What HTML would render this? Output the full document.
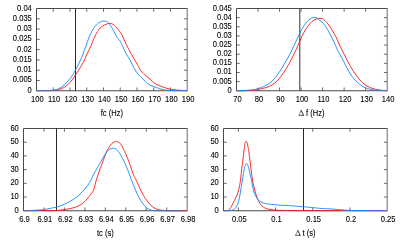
<!DOCTYPE html>
<html><head><meta charset="utf-8"><title>plots</title>
<style>
html,body{margin:0;padding:0;background:#fff;}
body{width:400px;height:240px;overflow:hidden;}
svg{display:block;will-change:transform;}
text{font-family:"Liberation Sans", sans-serif;font-size:8.6px;fill:#000;stroke:#000;stroke-width:0.09;}
.ax{fill:none;stroke:#303030;stroke-width:0.88;}
.tk{fill:none;stroke:#6c6c6c;stroke-width:1;}
.r{fill:none;stroke:#ff1414;stroke-width:0.9;stroke-linejoin:round;}
.b{fill:none;stroke:#148aff;stroke-width:0.9;stroke-linejoin:round;}
</style></head>
<body>
<svg width="400" height="240" viewBox="0 0 400 240">
<rect width="400" height="240" fill="#fff"/>
<g>
<path class="tk" d="M53.24 90.75v-3.3 M53.24 8.5v3.3 M69.99 90.75v-3.3 M69.99 8.5v3.3 M86.73 90.75v-3.3 M86.73 8.5v3.3 M103.48 90.75v-3.3 M103.48 8.5v3.3 M120.22 90.75v-3.3 M120.22 8.5v3.3 M136.97 90.75v-3.3 M136.97 8.5v3.3 M153.71 90.75v-3.3 M153.71 8.5v3.3 M170.46 90.75v-3.3 M170.46 8.5v3.3 M36.5 80.47h3.3 M187.2 80.47h-3.3 M36.5 70.19h3.3 M187.2 70.19h-3.3 M36.5 59.91h3.3 M187.2 59.91h-3.3 M36.5 49.62h3.3 M187.2 49.62h-3.3 M36.5 39.34h3.3 M187.2 39.34h-3.3 M36.5 29.06h3.3 M187.2 29.06h-3.3 M36.5 18.78h3.3 M187.2 18.78h-3.3"/>
<path class="ax" d="M187.5 90.75H36.5V8.5H187.5"/>
<path class="ax" style="stroke:#4a4a4a;stroke-width:0.8" d="M187.2 8.5V90.75"/>
<line x1="75.5" y1="8.5" x2="75.5" y2="90.75" stroke="#2a2a2a" stroke-width="1.0"/>
<path class="r" d="M36.5 90.7C38.42 90.7 44.75 90.78 48 90.7C51.25 90.62 54 90.45 56 90.2C58 89.95 58.67 89.67 60 89.2C61.33 88.73 62.67 88.2 64 87.4C65.33 86.6 66.67 85.63 68 84.4C69.33 83.17 70.67 81.73 72 80C73.33 78.27 74.67 76 76 74C77.33 72 78.67 70.17 80 68C81.33 65.83 82.83 63.33 84 61C85.17 58.67 85.79 56.63 87 54C88.21 51.37 90.12 47.74 91.25 45.2C92.38 42.66 92.92 40.66 93.75 38.75C94.58 36.84 95.42 35.27 96.25 33.75C97.08 32.23 97.92 30.73 98.75 29.6C99.58 28.48 100.31 27.77 101.25 27C102.19 26.23 103.36 25.53 104.4 25C105.44 24.47 106.47 24.07 107.5 23.8C108.53 23.53 109.67 23.3 110.6 23.4C111.53 23.5 112.27 23.88 113.1 24.4C113.93 24.92 114.77 25.67 115.6 26.5C116.43 27.33 117.37 28.5 118.1 29.4C118.83 30.3 119.27 30.8 120 31.9C120.73 33 121.5 33.98 122.5 36C123.5 38.02 124.58 41.08 126 44C127.42 46.92 129.33 50.5 131 53.5C132.67 56.5 134.33 59.08 136 62C137.67 64.92 139.33 68.73 141 71C142.67 73.27 144.5 74.27 146 75.6C147.5 76.93 148.5 77.67 150 79C151.5 80.33 153 82.33 155 83.6C157 84.87 159.83 85.77 162 86.6C164.17 87.43 165.67 88.03 168 88.6C170.33 89.17 172.83 89.65 176 90C179.17 90.35 185.17 90.58 187 90.7"/>
<path class="b" d="M36.5 90.7C38.75 90.65 46.75 90.58 50 90.4C53.25 90.22 54.33 90 56 89.6C57.67 89.2 58.67 88.77 60 88C61.33 87.23 62.67 86.17 64 85C65.33 83.83 66.67 82.5 68 81C69.33 79.5 70.67 78 72 76C73.33 74 74.67 71.5 76 69C77.33 66.5 78.83 63.5 80 61C81.17 58.5 81.96 56.63 83 54C84.04 51.37 85.29 47.85 86.25 45.2C87.21 42.55 87.92 40.22 88.75 38.1C89.58 35.98 90.42 34.17 91.25 32.5C92.08 30.83 92.92 29.35 93.75 28.1C94.58 26.85 95.42 25.87 96.25 25C97.08 24.13 97.92 23.47 98.75 22.9C99.58 22.33 100.42 21.9 101.25 21.6C102.08 21.3 102.92 21.13 103.75 21.1C104.58 21.07 105.53 21.17 106.25 21.4C106.97 21.63 107.47 21.94 108.1 22.5C108.72 23.06 109.27 23.71 110 24.75C110.73 25.79 111.67 27.25 112.5 28.75C113.33 30.25 114.17 32.19 115 33.75C115.83 35.31 116.67 36.93 117.5 38.1C118.33 39.27 119.08 39.32 120 40.8C120.92 42.28 122 44.88 123 47C124 49.12 124.83 51.33 126 53.5C127.17 55.67 128.67 57.58 130 60C131.33 62.42 132.67 65.67 134 68C135.33 70.33 136.5 72.17 138 74C139.5 75.83 141.33 77.33 143 79C144.67 80.67 146.17 82.73 148 84C149.83 85.27 151.67 85.7 154 86.6C156.33 87.5 159.33 88.77 162 89.4C164.67 90.03 165.83 90.18 170 90.4C174.17 90.62 184.17 90.65 187 90.7"/>
<text transform="translate(37.4 102.05) scale(0.88 1)" text-anchor="middle">100</text>
<text transform="translate(54.14 102.05) scale(0.88 1)" text-anchor="middle">110</text>
<text transform="translate(70.89 102.05) scale(0.88 1)" text-anchor="middle">120</text>
<text transform="translate(87.63 102.05) scale(0.88 1)" text-anchor="middle">130</text>
<text transform="translate(104.38 102.05) scale(0.88 1)" text-anchor="middle">140</text>
<text transform="translate(121.12 102.05) scale(0.88 1)" text-anchor="middle">150</text>
<text transform="translate(137.87 102.05) scale(0.88 1)" text-anchor="middle">160</text>
<text transform="translate(154.61 102.05) scale(0.88 1)" text-anchor="middle">170</text>
<text transform="translate(171.36 102.05) scale(0.88 1)" text-anchor="middle">180</text>
<text transform="translate(188.1 102.05) scale(0.88 1)" text-anchor="middle">190</text>
<text transform="translate(31.8 92.75) scale(0.88 1)" text-anchor="end">0</text>
<text transform="translate(31.8 82.47) scale(0.88 1)" text-anchor="end">0.005</text>
<text transform="translate(31.8 72.19) scale(0.88 1)" text-anchor="end">0.01</text>
<text transform="translate(31.8 61.91) scale(0.88 1)" text-anchor="end">0.015</text>
<text transform="translate(31.8 51.62) scale(0.88 1)" text-anchor="end">0.02</text>
<text transform="translate(31.8 41.34) scale(0.88 1)" text-anchor="end">0.025</text>
<text transform="translate(31.8 31.06) scale(0.88 1)" text-anchor="end">0.03</text>
<text transform="translate(31.8 20.78) scale(0.88 1)" text-anchor="end">0.035</text>
<text transform="translate(31.8 10.5) scale(0.88 1)" text-anchor="end">0.04</text>
<text transform="translate(111.85 115.8) scale(0.88 1)" text-anchor="middle">fc (Hz)</text>
</g>
<g>
<path class="tk" d="M258.03 90.75v-3.3 M258.03 8.5v3.3 M279.56 90.75v-3.3 M279.56 8.5v3.3 M301.09 90.75v-3.3 M301.09 8.5v3.3 M322.61 90.75v-3.3 M322.61 8.5v3.3 M344.14 90.75v-3.3 M344.14 8.5v3.3 M365.67 90.75v-3.3 M365.67 8.5v3.3 M236.5 81.61h3.3 M387.2 81.61h-3.3 M236.5 72.47h3.3 M387.2 72.47h-3.3 M236.5 63.33h3.3 M387.2 63.33h-3.3 M236.5 54.19h3.3 M387.2 54.19h-3.3 M236.5 45.06h3.3 M387.2 45.06h-3.3 M236.5 35.92h3.3 M387.2 35.92h-3.3 M236.5 26.78h3.3 M387.2 26.78h-3.3 M236.5 17.64h3.3 M387.2 17.64h-3.3"/>
<path class="ax" d="M387.5 90.75H236.5V8.5H387.5"/>
<path class="ax" style="stroke:#4a4a4a;stroke-width:0.8" d="M387.2 8.5V90.75"/>
<line x1="299.75" y1="8.5" x2="299.75" y2="90.75" stroke="#555" stroke-width="1.2"/>
<path class="r" d="M236.5 90.7C238.08 90.7 243.08 90.78 246 90.7C248.92 90.62 251.67 90.48 254 90.2C256.33 89.92 258 89.43 260 89C262 88.57 264.33 88.1 266 87.6C267.67 87.1 268.67 86.67 270 86C271.33 85.33 272.67 84.6 274 83.6C275.33 82.6 276.67 81.43 278 80C279.33 78.57 280.67 76.83 282 75C283.33 73.17 284.67 71.17 286 69C287.33 66.83 288.67 64.5 290 62C291.33 59.5 292.67 56.75 294 54C295.33 51.25 296.67 48.5 298 45.5C299.33 42.5 300.67 38.75 302 36C303.33 33.25 304.67 31.07 306 29C307.33 26.93 308.67 25.1 310 23.6C311.33 22.1 312.67 20.83 314 20C315.33 19.17 316.83 18.87 318 18.6C319.17 18.33 320 18.23 321 18.4C322 18.57 322.83 18.67 324 19.6C325.17 20.53 326.67 22.27 328 24C329.33 25.73 330.67 27.83 332 30C333.33 32.17 334.67 34.33 336 37C337.33 39.67 338.67 43.17 340 46C341.33 48.83 342.67 51.33 344 54C345.33 56.67 346.67 59.5 348 62C349.33 64.5 350.67 66.83 352 69C353.33 71.17 354.67 73.17 356 75C357.33 76.83 358.67 78.5 360 80C361.33 81.5 362.67 82.9 364 84C365.33 85.1 366.5 85.83 368 86.6C369.5 87.37 371.17 88.03 373 88.6C374.83 89.17 376.67 89.65 379 90C381.33 90.35 385.67 90.58 387 90.7"/>
<path class="b" d="M236.5 90.7C238.08 90.65 243.08 90.58 246 90.4C248.92 90.22 251.67 90 254 89.6C256.33 89.2 258 88.7 260 88C262 87.3 264.33 86.23 266 85.4C267.67 84.57 268.67 84.07 270 83C271.33 81.93 272.67 80.5 274 79C275.33 77.5 276.67 75.83 278 74C279.33 72.17 280.67 70.17 282 68C283.33 65.83 284.67 63.33 286 61C287.33 58.67 288.67 56.58 290 54C291.33 51.42 292.67 48.33 294 45.5C295.33 42.67 296.67 39.75 298 37C299.33 34.25 300.67 31.33 302 29C303.33 26.67 304.67 24.67 306 23C307.33 21.33 308.83 19.9 310 19C311.17 18.1 312 17.83 313 17.6C314 17.37 315.17 17.37 316 17.6C316.83 17.83 317 18.27 318 19C319 19.73 320.67 20.67 322 22C323.33 23.33 324.67 25 326 27C327.33 29 328.67 31.5 330 34C331.33 36.5 332.83 39.5 334 42C335.17 44.5 336.07 47 337 49C337.93 51 338.6 52.17 339.6 54C340.6 55.83 341.77 57.67 343 60C344.23 62.33 345.67 65.5 347 68C348.33 70.5 349.67 73 351 75C352.33 77 353.67 78.57 355 80C356.33 81.43 357.67 82.5 359 83.6C360.33 84.7 361.5 85.77 363 86.6C364.5 87.43 366.17 88.03 368 88.6C369.83 89.17 370.83 89.65 374 90C377.17 90.35 384.83 90.58 387 90.7"/>
<text transform="translate(237.4 102.05) scale(0.88 1)" text-anchor="middle">70</text>
<text transform="translate(258.93 102.05) scale(0.88 1)" text-anchor="middle">80</text>
<text transform="translate(280.46 102.05) scale(0.88 1)" text-anchor="middle">90</text>
<text transform="translate(301.99 102.05) scale(0.88 1)" text-anchor="middle">100</text>
<text transform="translate(323.51 102.05) scale(0.88 1)" text-anchor="middle">110</text>
<text transform="translate(345.04 102.05) scale(0.88 1)" text-anchor="middle">120</text>
<text transform="translate(366.57 102.05) scale(0.88 1)" text-anchor="middle">130</text>
<text transform="translate(388.1 102.05) scale(0.88 1)" text-anchor="middle">140</text>
<text transform="translate(231.8 92.75) scale(0.88 1)" text-anchor="end">0</text>
<text transform="translate(231.8 83.61) scale(0.88 1)" text-anchor="end">0.005</text>
<text transform="translate(231.8 74.47) scale(0.88 1)" text-anchor="end">0.01</text>
<text transform="translate(231.8 65.33) scale(0.88 1)" text-anchor="end">0.015</text>
<text transform="translate(231.8 56.19) scale(0.88 1)" text-anchor="end">0.02</text>
<text transform="translate(231.8 47.06) scale(0.88 1)" text-anchor="end">0.025</text>
<text transform="translate(231.8 37.92) scale(0.88 1)" text-anchor="end">0.03</text>
<text transform="translate(231.8 28.78) scale(0.88 1)" text-anchor="end">0.035</text>
<text transform="translate(231.8 19.64) scale(0.88 1)" text-anchor="end">0.04</text>
<text transform="translate(231.8 10.5) scale(0.88 1)" text-anchor="end">0.045</text>
<g stroke="#000" fill="none" stroke-linecap="butt"><path d="M298.95 115.5L301.25 110" stroke-width="0.45"/><path d="M301.15 110.3L303.5 115.5" stroke-width="0.85"/><path d="M298.7 115.4H304.1" stroke-width="0.6"/></g>
<text transform="translate(306 115.8) scale(0.88 1)">f (Hz)</text>
</g>
<g>
<path class="tk" d="M43.96 210.75v-3.3 M43.96 128.5v3.3 M64.42 210.75v-3.3 M64.42 128.5v3.3 M84.89 210.75v-3.3 M84.89 128.5v3.3 M105.35 210.75v-3.3 M105.35 128.5v3.3 M125.81 210.75v-3.3 M125.81 128.5v3.3 M146.27 210.75v-3.3 M146.27 128.5v3.3 M166.74 210.75v-3.3 M166.74 128.5v3.3 M23.5 197.04h3.3 M187.2 197.04h-3.3 M23.5 183.33h3.3 M187.2 183.33h-3.3 M23.5 169.62h3.3 M187.2 169.62h-3.3 M23.5 155.92h3.3 M187.2 155.92h-3.3 M23.5 142.21h3.3 M187.2 142.21h-3.3"/>
<path class="ax" d="M187.5 210.75H23.5V128.5H187.5"/>
<path class="ax" style="stroke:#4a4a4a;stroke-width:0.8" d="M187.2 128.5V210.75"/>
<line x1="56.5" y1="128.5" x2="56.5" y2="210.75" stroke="#2a2a2a" stroke-width="1.0"/>
<path class="r" d="M23.5 210.7C28.42 210.68 46.75 210.72 53 210.6C59.25 210.48 58.5 210.27 61 210C63.5 209.73 65.83 209.4 68 209C70.17 208.6 72.17 208.17 74 207.6C75.83 207.03 77.5 206.37 79 205.6C80.5 204.83 81.67 204.1 83 203C84.33 201.9 85.67 200.5 87 199C88.33 197.5 89.83 195.67 91 194C92.17 192.33 93.17 191.17 94 189C94.83 186.83 95.35 183.33 96 181C96.65 178.67 97.18 177.1 97.9 175C98.62 172.9 99.43 170.73 100.3 168.4C101.17 166.07 102.17 163.5 103.1 161C104.03 158.5 104.96 155.6 105.9 153.4C106.84 151.2 107.8 149.42 108.75 147.8C109.7 146.18 110.66 144.7 111.6 143.7C112.54 142.7 113.62 142.18 114.4 141.8C115.18 141.42 115.47 141.3 116.25 141.4C117.03 141.5 118.16 141.65 119.1 142.4C120.04 143.15 120.97 144.37 121.9 145.9C122.83 147.43 123.77 149.57 124.7 151.6C125.63 153.63 126.57 155.77 127.5 158.1C128.43 160.43 129.3 162.78 130.3 165.6C131.3 168.42 132.57 172.67 133.5 175C134.43 177.33 134.87 177.45 135.9 179.6C136.93 181.75 138.45 185.27 139.7 187.9C140.95 190.53 142.15 193.22 143.4 195.4C144.65 197.58 145.95 199.35 147.2 201C148.45 202.65 149.65 204.12 150.9 205.3C152.15 206.48 153.45 207.38 154.7 208.1C155.95 208.82 157.15 209.23 158.4 209.6C159.65 209.97 160.93 210.12 162.2 210.3C163.47 210.48 161.87 210.62 166 210.7C170.13 210.78 183.5 210.78 187 210.8"/>
<path class="b" d="M23.5 210.7C26.08 210.58 35.08 210.28 39 210C42.92 209.72 44.33 209.43 47 209C49.67 208.57 52.67 207.97 55 207.4C57.33 206.83 59 206.33 61 205.6C63 204.87 65 204 67 203C69 202 71.17 200.77 73 199.6C74.83 198.43 76.33 197.43 78 196C79.67 194.57 81.33 192.83 83 191C84.67 189.17 86.67 186.83 88 185C89.33 183.17 90.1 181.67 91 180C91.9 178.33 92.32 177.08 93.4 175C94.48 172.92 96.19 169.83 97.5 167.5C98.81 165.17 100 163.18 101.25 161C102.5 158.82 103.75 156.25 105 154.4C106.25 152.55 107.4 150.93 108.75 149.9C110.1 148.87 111.69 148.14 113.1 148.2C114.51 148.26 115.9 149.07 117.2 150.25C118.5 151.43 119.65 153.21 120.9 155.3C122.15 157.39 123.6 160.45 124.7 162.8C125.8 165.15 126.66 167.37 127.5 169.4C128.34 171.43 129.12 173.32 129.75 175C130.38 176.68 130.38 177.2 131.25 179.5C132.12 181.8 133.75 185.85 135 188.8C136.25 191.75 137.5 194.77 138.75 197.2C140 199.63 141.25 201.7 142.5 203.4C143.75 205.1 145 206.35 146.25 207.4C147.5 208.45 148.75 209.17 150 209.7C151.25 210.23 152.08 210.42 153.75 210.6C155.42 210.78 155.21 210.77 160 210.8C164.79 210.83 178.75 210.8 182.5 210.8"/>
<text transform="translate(24.4 222.05) scale(0.88 1)" text-anchor="middle">6.9</text>
<text transform="translate(44.86 222.05) scale(0.88 1)" text-anchor="middle">6.91</text>
<text transform="translate(65.33 222.05) scale(0.88 1)" text-anchor="middle">6.92</text>
<text transform="translate(85.79 222.05) scale(0.88 1)" text-anchor="middle">6.93</text>
<text transform="translate(106.25 222.05) scale(0.88 1)" text-anchor="middle">6.94</text>
<text transform="translate(126.71 222.05) scale(0.88 1)" text-anchor="middle">6.95</text>
<text transform="translate(147.17 222.05) scale(0.88 1)" text-anchor="middle">6.96</text>
<text transform="translate(167.64 222.05) scale(0.88 1)" text-anchor="middle">6.97</text>
<text transform="translate(188.1 222.05) scale(0.88 1)" text-anchor="middle">6.98</text>
<text transform="translate(18.8 212.75) scale(0.88 1)" text-anchor="end">0</text>
<text transform="translate(18.8 199.04) scale(0.88 1)" text-anchor="end">10</text>
<text transform="translate(18.8 185.33) scale(0.88 1)" text-anchor="end">20</text>
<text transform="translate(18.8 171.62) scale(0.88 1)" text-anchor="end">30</text>
<text transform="translate(18.8 157.92) scale(0.88 1)" text-anchor="end">40</text>
<text transform="translate(18.8 144.21) scale(0.88 1)" text-anchor="end">50</text>
<text transform="translate(18.8 130.5) scale(0.88 1)" text-anchor="end">60</text>
<text transform="translate(105.35 235.8) scale(0.88 1)" text-anchor="middle">tc (s)</text>
</g>
<g>
<path class="tk" d="M238.38 210.75v-3.3 M238.38 128.5v3.3 M275.59 210.75v-3.3 M275.59 128.5v3.3 M312.79 210.75v-3.3 M312.79 128.5v3.3 M350 210.75v-3.3 M350 128.5v3.3 M223.5 197.04h3.3 M387.2 197.04h-3.3 M223.5 183.33h3.3 M387.2 183.33h-3.3 M223.5 169.62h3.3 M387.2 169.62h-3.3 M223.5 155.92h3.3 M387.2 155.92h-3.3 M223.5 142.21h3.3 M387.2 142.21h-3.3"/>
<path class="ax" d="M387.5 210.75H223.5V128.5H387.5"/>
<path class="ax" style="stroke:#4a4a4a;stroke-width:0.8" d="M387.2 128.5V210.75"/>
<line x1="303.5" y1="128.5" x2="303.5" y2="210.75" stroke="#2a2a2a" stroke-width="1.0"/>
<path class="r" d="M223.5 210.7C224.12 210.68 226.38 210.72 227.25 210.6C228.12 210.48 228.12 210.56 228.75 210C229.38 209.44 230.25 208.46 231 207.25C231.75 206.04 232.5 204.25 233.25 202.75C234 201.25 234.75 199.88 235.5 198.25C236.25 196.62 237.05 195.12 237.75 193C238.45 190.88 239.2 188 239.7 185.5C240.2 183 240.45 180.42 240.75 178C241.05 175.58 241.12 174.17 241.5 171C241.88 167.83 242.52 162.92 243 159C243.48 155.08 244.03 150.23 244.4 147.5C244.77 144.77 244.98 143.63 245.2 142.6C245.42 141.57 245.47 141.43 245.7 141.3C245.93 141.17 246.33 141.48 246.6 141.8C246.87 142.12 247.05 142.25 247.3 143.2C247.55 144.15 247.85 146.12 248.1 147.5C248.35 148.88 248.53 149.58 248.8 151.5C249.08 153.42 249.34 155.75 249.75 159C250.16 162.25 250.84 167.83 251.25 171C251.66 174.17 251.88 175.83 252.2 178C252.52 180.17 252.78 182 253.2 184C253.62 186 254.15 188 254.7 190C255.25 192 255.82 194.12 256.5 196C257.18 197.88 257.88 199.62 258.75 201.25C259.62 202.88 260.62 204.57 261.75 205.75C262.88 206.93 264.12 207.68 265.5 208.3C266.88 208.93 268.25 209.2 270 209.5C271.75 209.8 274 209.95 276 210.1C278 210.25 278 210.32 282 210.4C286 210.48 282.5 210.55 300 210.6C317.5 210.65 372.5 210.68 387 210.7"/>
<path class="b" d="M223.5 210.7C224.25 210.68 226.62 210.67 228 210.6C229.38 210.53 230.62 210.56 231.75 210.25C232.88 209.94 233.88 209.5 234.75 208.75C235.62 208 236.32 207.12 237 205.75C237.68 204.38 238.25 202.62 238.8 200.5C239.35 198.38 239.85 195.5 240.3 193C240.75 190.5 241.1 188 241.5 185.5C241.9 183 242.25 180.67 242.7 178C243.15 175.33 243.77 171.54 244.2 169.5C244.62 167.46 244.82 166.75 245.25 165.75C245.68 164.75 246.25 163.38 246.75 163.5C247.25 163.62 247.75 165 248.25 166.5C248.75 168 249.25 170.38 249.75 172.5C250.25 174.62 250.79 177 251.25 179.25C251.71 181.5 252.07 183.96 252.5 186C252.93 188.04 253.26 189.83 253.8 191.5C254.34 193.17 255.05 194.62 255.75 196C256.45 197.38 257.12 198.75 258 199.75C258.88 200.75 259.75 201.38 261 202C262.25 202.62 263.75 203.1 265.5 203.5C267.25 203.9 269.5 204.15 271.5 204.4C273.5 204.65 275.25 204.82 277.5 205C279.75 205.18 282.5 205.32 285 205.45C287.5 205.57 290.25 205.57 292.5 205.75C294.75 205.93 296.62 206.32 298.5 206.5C300.38 206.68 301.5 206.62 303.75 206.8C306 206.98 309.38 207.3 312 207.55C314.62 207.8 316.5 208.08 319.5 208.3C322.5 208.53 327 208.7 330 208.9C333 209.1 335 209.3 337.5 209.5C340 209.7 342.5 209.93 345 210.1C347.5 210.27 345.5 210.4 352.5 210.5C359.5 210.6 381.25 210.67 387 210.7"/>
<text transform="translate(239.28 222.05) scale(0.88 1)" text-anchor="middle">0.05</text>
<text transform="translate(276.49 222.05) scale(0.88 1)" text-anchor="middle">0.1</text>
<text transform="translate(313.69 222.05) scale(0.88 1)" text-anchor="middle">0.15</text>
<text transform="translate(350.9 222.05) scale(0.88 1)" text-anchor="middle">0.2</text>
<text transform="translate(388.1 222.05) scale(0.88 1)" text-anchor="middle">0.25</text>
<text transform="translate(218.8 212.75) scale(0.88 1)" text-anchor="end">0</text>
<text transform="translate(218.8 199.04) scale(0.88 1)" text-anchor="end">10</text>
<text transform="translate(218.8 185.33) scale(0.88 1)" text-anchor="end">20</text>
<text transform="translate(218.8 171.62) scale(0.88 1)" text-anchor="end">30</text>
<text transform="translate(218.8 157.92) scale(0.88 1)" text-anchor="end">40</text>
<text transform="translate(218.8 144.21) scale(0.88 1)" text-anchor="end">50</text>
<text transform="translate(218.8 130.5) scale(0.88 1)" text-anchor="end">60</text>
<g stroke="#000" fill="none" stroke-linecap="butt"><path d="M295.55 235.5L297.85 230" stroke-width="0.45"/><path d="M297.75 230.3L300.1 235.5" stroke-width="0.85"/><path d="M295.3 235.4H300.7" stroke-width="0.6"/></g>
<text transform="translate(302.6 235.8) scale(0.88 1)">t (s)</text>
</g>
</svg>
</body></html>
